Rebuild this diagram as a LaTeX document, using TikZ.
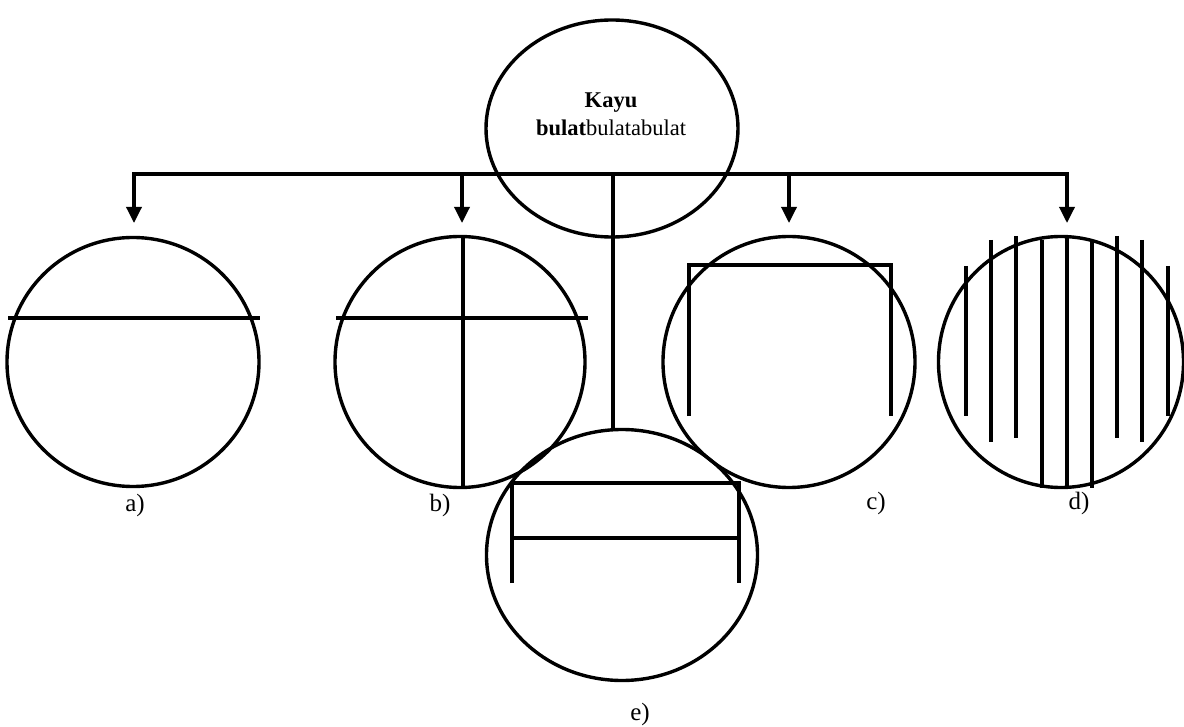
\documentclass[tikz,border=0pt]{standalone}
\usepackage{fontspec}
\setmainfont{Liberation Serif}
\usetikzlibrary{arrows.meta,shapes.geometric}
\begin{document}
\begin{tikzpicture}[x=1pt,y=-1pt,line width=3.4pt,
  log/.style={draw,ellipse,inner sep=0pt,line width=3.4pt},
  arr/.style={-{Triangle[width=15pt,length=16pt]}},
  lbl/.style={font=\fontsize{25}{30}\selectfont,inner sep=0pt},
  cut/.style={line width=3.4pt}]
\useasboundingbox (0,0) rectangle (1184,727);
% top ellipse
\node[log,minimum width=252pt,minimum height=217pt] (top) at (612,128.5) {};
\node[align=center,inner sep=0pt,font=\fontsize{22.5}{28}\selectfont] (txt) at (611,114)
  {\textbf{Kayu}\\\textbf{bulat}bulatabulat};
% logs
\node[log,minimum width=252pt,minimum height=249pt] (a) at (133,362) {};
\node[log,minimum width=250pt,minimum height=251pt] (b) at (460,362) {};
\node[log,minimum width=252pt,minimum height=251pt] (c) at (789,362) {};
\node[log,minimum width=245pt,minimum height=251pt] (d) at (1061,362) {};
\node[log,minimum width=271pt,minimum height=251pt] (e) at (622,555) {};
% connectors
\coordinate (J) at (613,174);
\coordinate (ta) at (134,223);
\coordinate (tb) at (462,223);
\coordinate (tc) at (789,223);
\coordinate (td) at (1067,223);
\coordinate (te) at (613,429);
\draw[arr] (J) -| (ta);
\draw[arr] (J) -| (tb);
\draw[arr] (J) -| (tc);
\draw[arr] (J) -| (td);
\draw (J) -- (te);
% a) cut
\draw[cut] (8,318) -- (260,318);
% b) cuts
\draw[cut] (336,318) -- (588,318);
\draw[cut] (463,237) -- (463,488);
% c) cuts
\draw[cut,line join=miter] (689,416) -- (689,265) -- (891,265) -- (891,416);
% d) cuts
\foreach \x/\ya/\yb in {966/266/416,1168/266/416,991/240/442,1142/240/442,1016/236/438,1117/236/438,1042/240/488,1092/240/488,1067/236/488}
  \draw[cut] (\x,\ya) -- (\x,\yb);
% e) cuts
\draw[cut,line join=miter] (512,583) -- (512,483) -- (739,483) -- (739,583);
\draw[cut] (512,538) -- (739,538);
% labels
\node[lbl] (la) at (135,505) {a)};
\node[lbl] (lb) at (440,505) {b)};
\node[lbl] (lc) at (876,503) {c)};
\node[lbl] (ld) at (1079,503) {d)};
\node[lbl] (le) at (640,714) {e)};
\end{tikzpicture}
\end{document}
